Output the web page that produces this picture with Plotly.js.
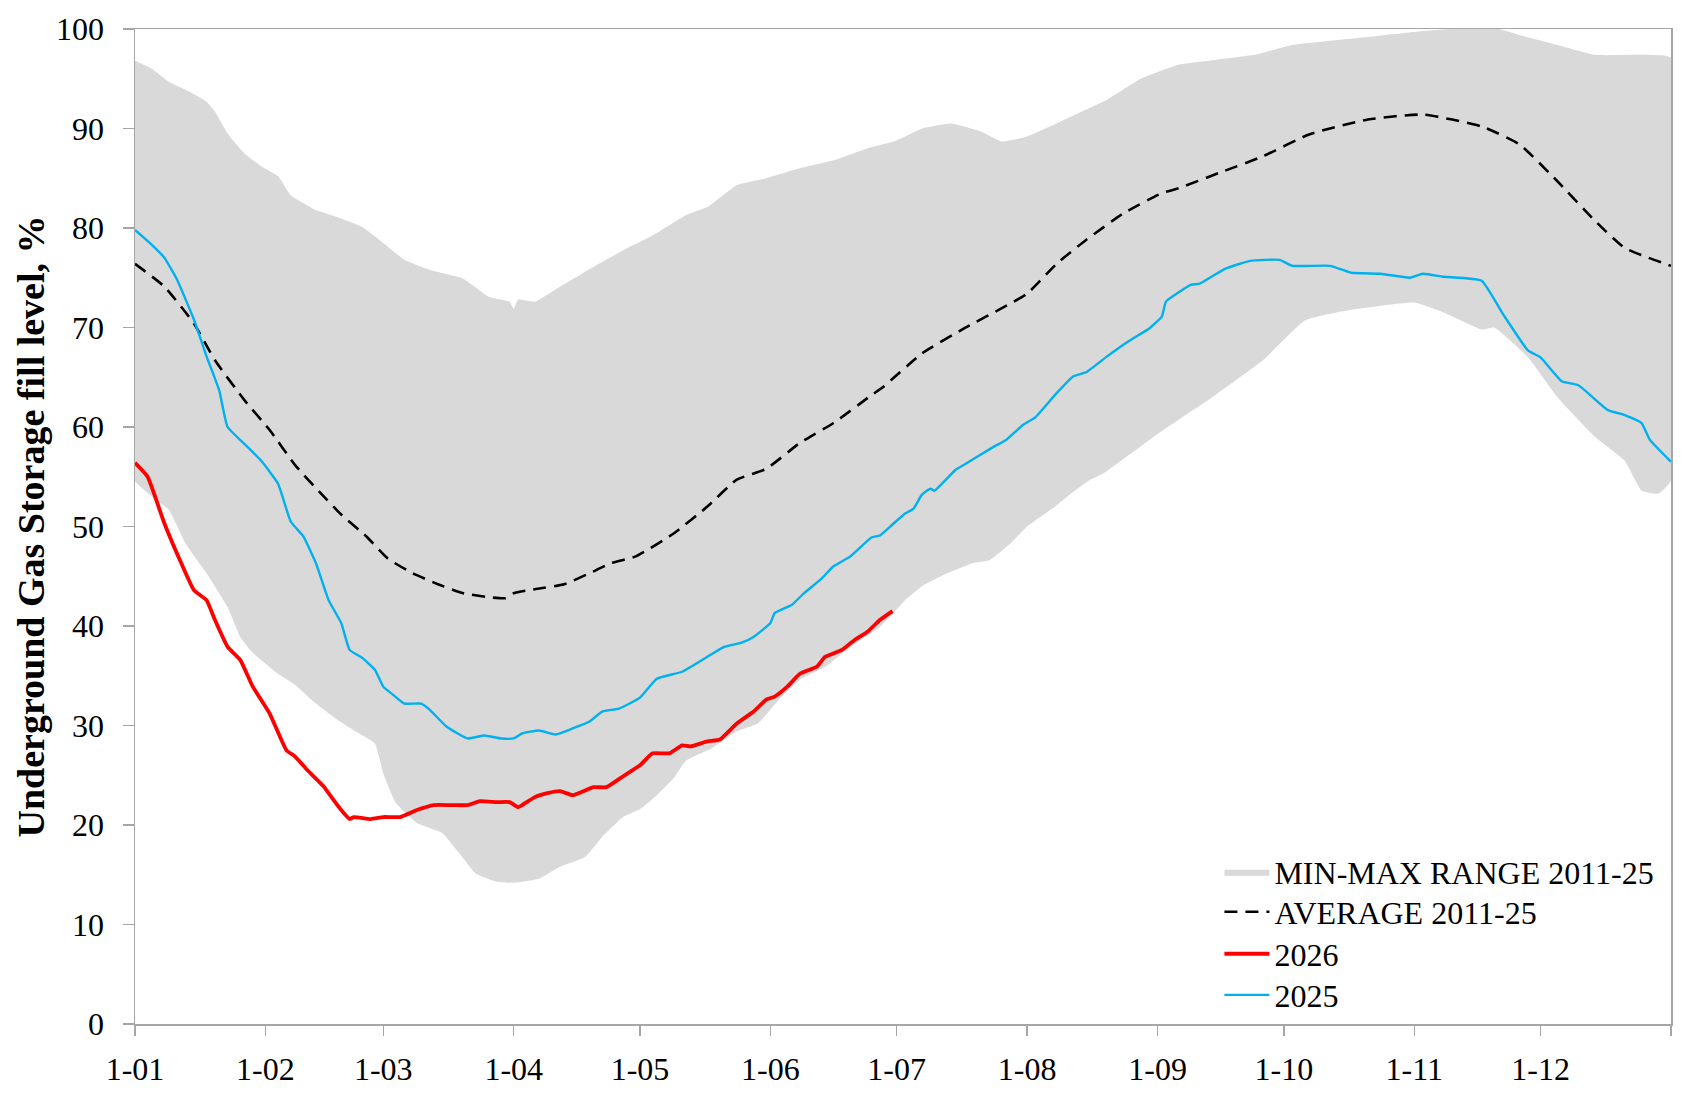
<!DOCTYPE html>
<html>
<head>
<meta charset="utf-8">
<script src="https://cdn.plot.ly/plotly-3.0.1.min.js"></script>
<style>
  html, body { margin: 0; padding: 0; background: #ffffff; }
  #chart { width: 1696px; height: 1093px; }
</style>
</head>
<body>
<div id="chart"></div>
<script>
// Day offsets are counted from 1 January (day 0).
const maxDays = [0,4,8,13,17,19,22,26,30,34,37,43,48,54,59,64,70,78,84,89,90,91,95,101,109,117,120,124,131,136,143,150,158,166,174,181,187,194,201,206,212,219,226,231,239,248,257,266,275,293,306,313,324,329,338,347,358,365];
const maxVals = [96.8,96.0,94.7,93.7,92.7,91.7,89.5,87.5,86.2,85.2,83.3,81.8,81.1,80.1,78.5,76.8,75.8,74.9,73.1,72.6,71.9,72.8,72.6,74.1,76.1,78.0,78.6,79.5,81.3,82.1,84.3,85.0,86.0,86.8,88.0,88.8,90.0,90.5,89.7,88.7,89.2,90.5,91.9,92.9,95.0,96.4,96.9,97.4,98.4,99.2,99.8,100,100,99.4,98.4,97.4,97.4,97.1];

const minDays = [0,4,8,12,17,22,25,28,34,38,43,48,52,57,59,62,67,73,77,81,86,90,96,101,107,111,116,120,124,128,131,137,143,148,153,158,164,170,177,183,187,192,199,203,208,212,218,223,227,230,243,257,268,278,288,304,311,320,323,331,338,347,354,358,362,365];
const minVals = [54.5,53.0,51.7,48.3,45.3,41.9,38.9,37.3,35.2,34.1,32.2,30.6,29.5,28.2,25.2,22.2,20.2,19.2,17.2,15.1,14.3,14.2,14.6,15.8,16.8,18.8,20.8,21.6,23.0,24.7,26.5,27.7,29.4,30.2,32.6,34.6,35.9,37.9,39.9,42.6,44.0,45.1,46.3,46.6,48.3,50.0,51.8,53.5,54.7,55.3,59.3,63.3,66.7,70.7,71.7,72.5,71.5,69.8,70.0,67.0,63.0,59.0,56.6,53.6,53.3,54.6];

const avgDays = [0,7,14,19,26,32,38,44,49,55,60,66,72,78,84,88,90,95,102,108,113,119,128,136,143,150,158,166,175,178,187,197,208,212,219,226,235,244,248,258,268,279,293,306,320,329,338,347,354,365];
const avgVals = [76.4,74.1,70.4,66.7,62.7,59.7,56.2,53.4,51.2,49.0,46.8,45.3,44.2,43.3,42.9,42.8,43.3,43.7,44.2,45.3,46.3,47.0,49.3,52.0,54.7,55.8,58.4,60.4,63.2,64.1,67.4,69.9,72.4,73.4,76.4,78.8,81.5,83.5,84.0,85.6,87.2,89.4,90.9,91.4,90.2,88.4,84.7,80.7,78.0,76.2];

const y2025Days = [0,4,7,10,14,17,20,22,26,30,34,37,40,43,46,49,51,54,57,59,61,64,68,70,74,79,83,87,90,92,96,100,104,108,111,115,120,124,130,136,140,144,147,151,152,156,159,163,166,170,175,177,180,183,185,187,189,190,195,197,204,207,211,214,219,223,226,231,236,241,244,245,251,253,259,265,272,275,284,289,296,303,306,311,320,325,331,334,339,343,350,354,358,360,365];
const y2025Vals = [79.8,78.3,77.0,74.8,70.8,67.1,63.7,60.0,58.3,56.6,54.3,50.5,49.0,46.3,42.6,40.3,37.6,36.8,35.6,33.9,33.2,32.2,32.2,31.6,29.9,28.7,29.0,28.7,28.7,29.2,29.5,29.1,29.7,30.4,31.4,31.7,32.8,34.7,35.4,36.9,37.9,38.3,38.9,40.3,41.3,42.1,43.3,44.7,46.0,47.0,48.9,49.1,50.2,51.3,51.8,53.2,53.8,53.6,55.7,56.2,58.0,58.7,60.2,61.0,63.4,65.1,65.5,67.1,68.6,69.9,71.1,72.6,74.3,74.4,75.9,76.7,76.8,76.2,76.2,75.5,75.4,75.0,75.4,75.1,74.7,71.4,67.7,67.0,64.6,64.2,61.7,61.2,60.4,58.7,56.5];

const y2026Days = [0,3,7,11,14,17,19,22,25,28,32,36,38,41,45,46,49,51,52,56,59,63,67,71,75,79,82,86,89,91,92,95,98,101,104,106,109,112,116,120,123,127,130,132,136,139,143,147,150,152,155,158,162,164,168,171,174,177,180];
const y2026Vals = [56.4,55.0,50.3,46.3,43.6,42.6,40.6,37.9,36.6,33.9,31.2,27.5,26.9,25.5,23.8,23.2,21.5,20.6,20.8,20.6,20.8,20.8,21.5,22.0,22.0,22.0,22.4,22.3,22.3,21.8,22.0,22.8,23.2,23.4,23.0,23.3,23.8,23.8,24.9,26.0,27.2,27.2,28.0,27.9,28.4,28.6,30.2,31.4,32.6,32.9,33.9,35.2,35.9,36.9,37.6,38.6,39.4,40.6,41.5];

const monthTicks = ['2026-01-01','2026-02-01','2026-03-01','2026-04-01','2026-05-01','2026-06-01','2026-07-01','2026-08-01','2026-09-01','2026-10-01','2026-11-01','2026-12-01','2027-01-01'];
const monthLabels = ['1-01','1-02','1-03','1-04','1-05','1-06','1-07','1-08','1-09','1-10','1-11','1-12',''];

const seriesNames = ['MIN-MAX RANGE 2011-25','AVERAGE 2011-25','2026','2025'];

const toDate = d => new Date(Date.UTC(2026, 0, 1 + d)).toISOString().slice(0, 10);

const FONT = 'Liberation Serif, Times New Roman, serif';
const AXIS_GREY = '#a6a6a6';

// Min-max band as one closed polygon: upper edge forward, lower edge back.
const band = {
  x: maxDays.map(toDate).concat(minDays.slice().reverse().map(toDate)),
  y: maxVals.concat(minVals.slice().reverse()),
  type: 'scatter',
  mode: 'lines',
  fill: 'toself',
  fillcolor: '#d9d9d9',
  line: { width: 0, color: '#d9d9d9', shape: 'spline', smoothing: 0.4 },
  name: seriesNames[0],
  legend: 'legend',
  hoverinfo: 'skip'
};

const average = {
  x: avgDays.map(toDate),
  y: avgVals,
  type: 'scatter',
  mode: 'lines',
  line: { color: '#000000', width: 2.6, dash: '13px,8px', shape: 'spline', smoothing: 0.5 },
  name: seriesNames[1],
  legend: 'legend2'
};

const line2025 = {
  x: y2025Days.map(toDate),
  y: y2025Vals,
  type: 'scatter',
  mode: 'lines',
  line: { color: '#00b0f0', width: 2.4, shape: 'spline', smoothing: 0.4 },
  name: seriesNames[3],
  legend: 'legend4'
};

const line2026 = {
  x: y2026Days.map(toDate),
  y: y2026Vals,
  type: 'scatter',
  mode: 'lines',
  line: { color: '#ff0000', width: 3.8, shape: 'spline', smoothing: 0.4 },
  name: seriesNames[2],
  legend: 'legend3'
};

const axisCommon = {
  showline: true,
  linecolor: AXIS_GREY,
  linewidth: 1.5,
  mirror: true,
  ticks: 'outside',
  tickcolor: AXIS_GREY,
  tickwidth: 1.5,
  showgrid: false,
  zeroline: false,
  tickfont: { family: FONT, size: 32, color: '#000000' }
};

// One legend box per entry so each row sits at its own height.
function legendRow(yCenter) {
  return {
    x: 0.706,
    y: yCenter,
    xanchor: 'left',
    yanchor: 'middle',
    bgcolor: 'rgba(0,0,0,0)',
    borderwidth: 0,
    itemwidth: 45,
    font: { family: FONT, size: 32, color: '#000000' }
  };
}

const layout = {
  width: 1696,
  height: 1093,
  margin: { l: 135, r: 25, t: 29, b: 69 },
  paper_bgcolor: '#ffffff',
  plot_bgcolor: '#ffffff',
  showlegend: true,
  xaxis: Object.assign({}, axisCommon, {
    type: 'date',
    range: ['2026-01-01', '2027-01-01'],
    tickmode: 'array',
    tickvals: monthTicks,
    ticktext: monthLabels,
    ticklen: 10,
    ticklabelstandoff: 6
  }),
  yaxis: Object.assign({}, axisCommon, {
    range: [0, 100],
    tick0: 0,
    dtick: 10,
    ticklen: 11,
    ticklabelstandoff: 12,
    title: {
      text: 'Underground Gas Storage fill level, %',
      font: { family: FONT, size: 38, color: '#000000', weight: 'bold' },
      standoff: 0
    }
  }),
  legend: legendRow(0.1528),
  legend2: legendRow(0.1126),
  legend3: legendRow(0.0704),
  legend4: legendRow(0.0291)
};

Plotly.newPlot('chart', [band, average, line2025, line2026], layout, {
  displayModeBar: false,
  staticPlot: true
});
</script>
</body>
</html>
